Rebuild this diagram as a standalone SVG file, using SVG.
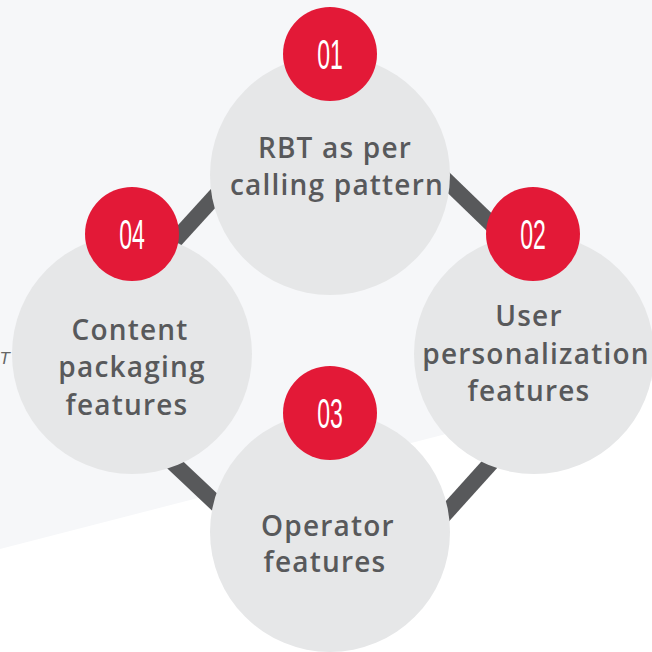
<svg xmlns="http://www.w3.org/2000/svg" width="652" height="652" viewBox="0 0 652 652">
<defs>
<style>
.bg{fill:#f6f7f9}
.node{fill:#e6e7e8}
.badge{fill:#e31937}
.num{fill:#ffffff;font-family:"Liberation Sans",Arial,sans-serif;font-size:42px;text-anchor:middle}
.lbl{fill:#58595b;font-family:"Open Sans",sans-serif;font-weight:600;font-size:28px;letter-spacing:1.2px;text-anchor:middle}
.conn{stroke:#58595b;stroke-width:16;fill:none;stroke-linecap:butt}
</style>
</defs>
<rect width="652" height="652" fill="#ffffff"/>
<polygon class="bg" points="0,0 652,0 652,381 0,549"/>
<text x="10" y="364" font-family="Liberation Sans,sans-serif" font-size="17" font-style="italic" fill="#666666" text-anchor="end">T</text>
<g id="connectors">
<line class="conn" x1="331" y1="69" x2="606" y2="335"/>
<line class="conn" x1="606" y1="335" x2="345" y2="625"/>
<line class="conn" x1="345" y1="625" x2="65" y2="361"/>
<line class="conn" x1="65" y1="361" x2="331" y2="69"/>
</g>
<g id="node1">
<circle class="node" cx="330" cy="175" r="120"/>
<text class="lbl" x="335" y="158">RBT as per</text>
<text class="lbl" x="337" y="195">calling pattern</text>
<circle class="badge" cx="330" cy="54" r="47"/>
<text class="num" transform="translate(330,69) scale(0.55,1)">01</text>
</g>
<g id="node2">
<circle class="node" cx="534" cy="354" r="120"/>
<text class="lbl" x="529" y="326">User</text>
<text class="lbl" x="536" y="364">personalization</text>
<text class="lbl" x="529" y="401">features</text>
<circle class="badge" cx="533" cy="234" r="47"/>
<text class="num" transform="translate(533,249) scale(0.55,1)">02</text>
</g>
<g id="node4">
<circle class="node" cx="132" cy="354" r="120"/>
<text class="lbl" x="130" y="340">Content</text>
<text class="lbl" x="132" y="377">packaging</text>
<text class="lbl" x="127" y="415">features</text>
<circle class="badge" cx="132" cy="234" r="47"/>
<text class="num" transform="translate(132,249) scale(0.55,1)">04</text>
</g>
<g id="node3">
<circle class="node" cx="330" cy="532" r="120"/>
<text class="lbl" x="328" y="536">Operator</text>
<text class="lbl" x="325" y="572">features</text>
<circle class="badge" cx="330" cy="413" r="47"/>
<text class="num" transform="translate(330,428) scale(0.55,1)">03</text>
</g>
</svg>
